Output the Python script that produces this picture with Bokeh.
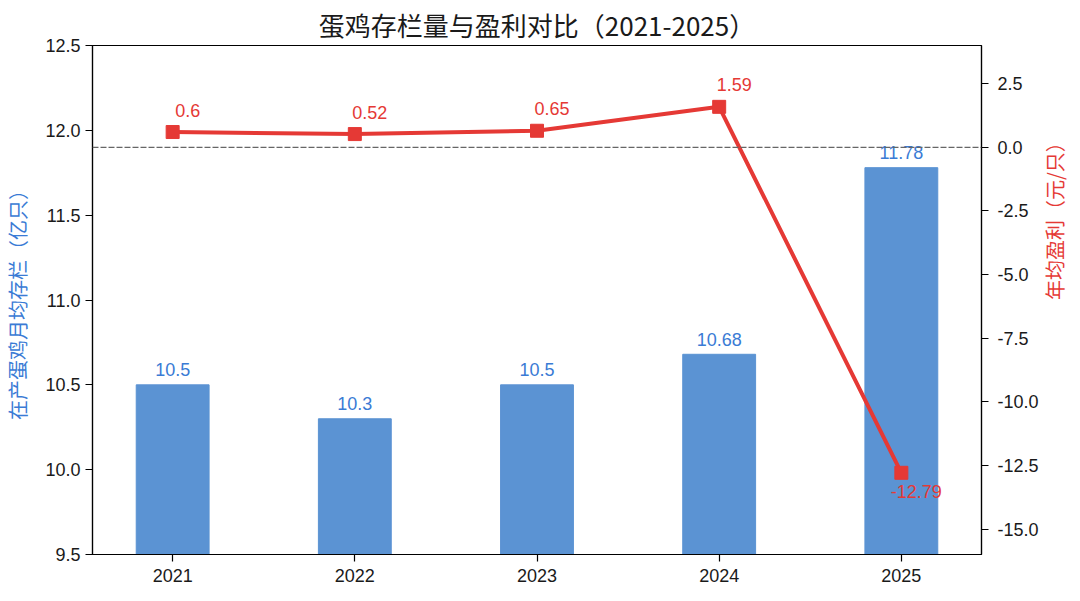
import math

from bokeh.models import ColumnDataSource, Range1d, LinearAxis, FixedTicker, PrintfTickFormatter, Span
from bokeh.plotting import figure
from bokeh.core.properties import value
from bokeh.embed import file_html
from bokeh.resources import INLINE

# data
years = ["2021", "2022", "2023", "2024", "2025"]
stock = [10.5, 10.3, 10.5, 10.68, 11.78]      # 在产蛋鸡月均存栏（亿只）
profit = [0.6, 0.52, 0.65, 1.59, -12.79]      # 年均盈利（元/只）

left_ticks = [9.5, 10.0, 10.5, 11.0, 11.5, 12.0, 12.5]
right_ticks = [-15.0, -12.5, -10.0, -7.5, -5.0, -2.5, 0.0, 2.5]

BLUE_BAR = "#5b93d3"
BLUE_TXT = "#3a7bd5"
RED = "#e53935"
NUM_FONT = "Liberation Sans"
CJK_FONT = "Noto Sans CJK SC"

xs = list(range(len(years)))
source = ColumnDataSource(data=dict(
    x=xs,
    stock=stock,
    profit=profit,
    stock_lbl=[str(v) for v in stock],
    profit_lbl=[str(v) for v in profit],
    profit_off=[-22 if v >= 0 else 19 for v in profit],
))

p = figure(frame_width=889, frame_height=509,
           x_range=Range1d(-0.44, 4.44), y_range=Range1d(9.5, 12.5),
           toolbar_location=None, tools="", output_backend="svg",
           min_border_left=84, min_border_right=0,
           min_border_top=38, min_border_bottom=0)
p.extra_y_ranges = {"profit": Range1d(-16, 4)}

p.title.text = "蛋鸡存栏量与盈利对比（2021-2025）"
p.title.align = "center"
p.title.text_font = CJK_FONT
p.title.text_font_size = "26px"
p.title.text_font_style = "normal"
p.title.text_color = "#1a1a1a"
p.title.standoff = 6

p.xgrid.grid_line_color = None
p.ygrid.grid_line_color = None
p.outline_line_color = "black"
p.outline_line_width = 1.2
p.outline_line_alpha = 1

# bars (left axis)
p.vbar(x="x", top="stock", bottom=0, width=0.4, source=source,
       fill_color=BLUE_BAR, line_color=BLUE_BAR)
p.text(x="x", y="stock", text="stock_lbl", source=source,
       text_align="center", text_baseline="middle", y_offset=-15,
       text_color=BLUE_TXT, text_font=value(NUM_FONT), text_font_size="18px")

# zero line for profit axis
p.add_layout(Span(location=0, dimension="width", y_range_name="profit",
                  line_color="#666666", line_width=1.2, line_dash="6 2"))

# profit line (right axis)
p.line(x="x", y="profit", source=source, y_range_name="profit",
       line_color=RED, line_width=4)
p.scatter(x="x", y="profit", source=source, y_range_name="profit",
          marker="square", size=13, fill_color=RED, line_color=RED)
p.text(x="x", y="profit", text="profit_lbl", source=source, y_range_name="profit",
       text_align="center", text_baseline="middle", x_offset=15, y_offset="profit_off",
       text_color=RED, text_font=value(NUM_FONT), text_font_size="18px")

def style_axis(ax):
    ax.axis_line_color = "black"
    ax.axis_line_width = 1.2
    ax.major_tick_line_color = "black"
    ax.major_tick_line_width = 1.2
    ax.major_tick_out = 7
    ax.major_tick_in = 0
    ax.minor_tick_line_color = None
    ax.major_label_text_font = NUM_FONT
    ax.major_label_text_font_size = "18px"
    ax.major_label_text_color = "#1a1a1a"
    ax.major_label_standoff = 5
    ax.axis_label_text_font = CJK_FONT
    ax.axis_label_text_font_size = "20px"
    ax.axis_label_text_font_style = "normal"

xax = p.xaxis[0]
xax.ticker = FixedTicker(ticks=xs)
xax.major_label_overrides = {i: y for i, y in enumerate(years)}
style_axis(xax)
xax.axis_label = None
xax.major_label_standoff = 7

yax = p.yaxis[0]
yax.ticker = FixedTicker(ticks=left_ticks)
yax.formatter = PrintfTickFormatter(format="%.1f")
yax.axis_label = "在产蛋鸡月均存栏（亿只）"
style_axis(yax)
yax.axis_label_text_color = BLUE_TXT
yax.axis_label_standoff = 10

rax = LinearAxis(y_range_name="profit", ticker=FixedTicker(ticks=right_ticks),
                 formatter=PrintfTickFormatter(format="%.1f"),
                 axis_label="年均盈利（元/只）")
style_axis(rax)
rax.major_label_standoff = 9
rax.axis_label_text_color = RED
rax.axis_label_standoff = 13
rax.axis_label_orientation = math.pi / 2
rax.axis_label_text_align = "center"
rax.axis_label_text_baseline = "middle"
p.add_layout(rax, "right")

open("out.html", "w").write(file_html(p, INLINE))
